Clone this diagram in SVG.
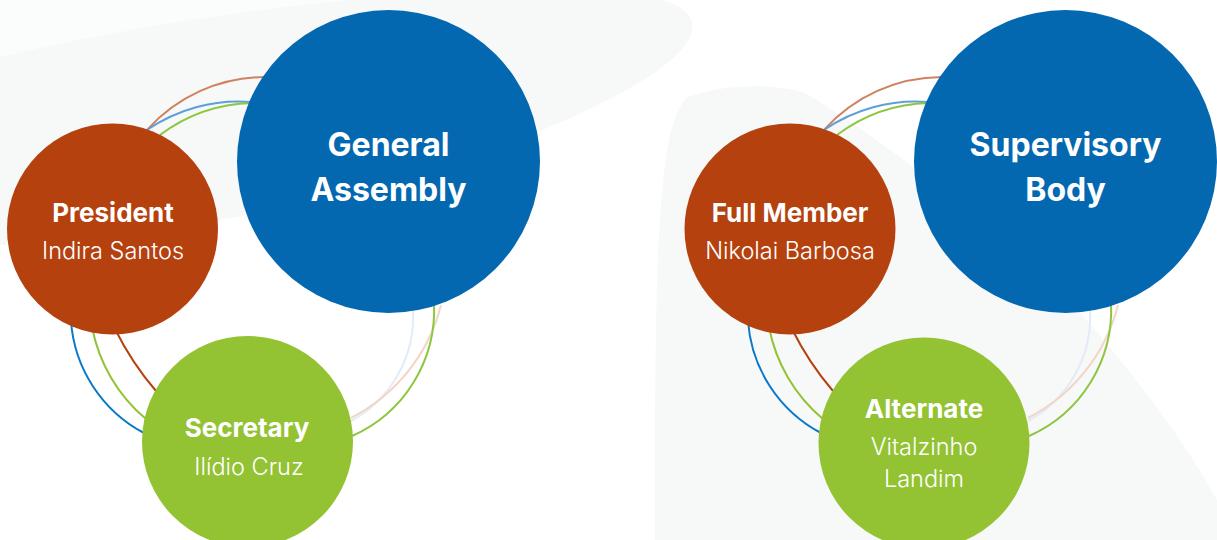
<svg xmlns="http://www.w3.org/2000/svg" width="1217" height="540" viewBox="0 0 1217 540">
<style>
.bg{fill:#F7F8F8}
.bg2{fill:#FBFCFC}
.node-blue{fill:#0468B1}
.node-orange{fill:#B5410F}
.node-green{fill:#93C233}
.t{fill:#FFFFFF;text-anchor:middle;font-family:Inter,"Liberation Sans",sans-serif}
.title{font-size:32px;font-weight:700}
.role{font-size:26px;font-weight:700}
.name{font-size:23.5px;font-weight:300}
.link{fill:none;stroke-width:2}
</style>
<rect width="1217" height="540" fill="#FFFFFF"/>
<g id="background">
<path class="bg2" d="M0,0 L620,0 C450,-10 200,15 0,57 Z"/>
<path class="bg" d="M0,57 L0,245 C150,235 350,205 480,155 C600,110 700,60 692,22 C688,8 670,0 640,-5 C450,-20 200,10 0,57 Z"/>
<path class="bg" d="M688,97 C720,85 770,82 805,93 C900,150 1010,240 1080,313 C1140,380 1190,450 1217,500 L1217,540 L655,540 C655,400 655,260 662,193 C666,150 672,110 688,97 Z"/>
</g>
<g id="connectors">
<g id="links-left">
<path class="link" stroke="#D0825E" d="M147,130 A159 159 0 0 1 265,77"/>
<path class="link" stroke="#5E9FDB" d="M147,130 A161 161 0 0 1 250,102"/>
<path class="link" stroke="#8DC63F" d="M160,135 A160 160 0 0 1 252,103"/>
<path class="link" stroke="#0A78C8" d="M71,321 A138 138 0 0 0 144,433"/>
<path class="link" stroke="#93C233" d="M92,327 A159 159 0 0 0 146,419"/>
<path class="link" stroke="#B5410F" d="M115,329 A300 300 0 0 0 156,391"/>
<path class="link" stroke="#E3EBF8" d="M413,310 A119 119 0 0 1 351,421"/>
<path class="link" stroke="#F2D5C6" d="M441,305 A175 175 0 0 1 351,418"/>
<path class="link" stroke="#8DC63F" d="M434,303 A138 138 0 0 1 352,436"/>
</g>
<g id="links-right">
<path class="link" stroke="#D0825E" d="M824,130 A159 159 0 0 1 942,77"/>
<path class="link" stroke="#5E9FDB" d="M824,130 A161 161 0 0 1 927,102"/>
<path class="link" stroke="#8DC63F" d="M837,135 A160 160 0 0 1 929,103"/>
<path class="link" stroke="#0A78C8" d="M748,321 A138 138 0 0 0 821,433"/>
<path class="link" stroke="#93C233" d="M769,327 A159 159 0 0 0 823,419"/>
<path class="link" stroke="#B5410F" d="M792,329 A300 300 0 0 0 833,391"/>
<path class="link" stroke="#E3EBF8" d="M1090,310 A119 119 0 0 1 1028,421"/>
<path class="link" stroke="#F2D5C6" d="M1118,305 A175 175 0 0 1 1028,418"/>
<path class="link" stroke="#8DC63F" d="M1111,303 A138 138 0 0 1 1029,436"/>
</g>
</g>
<g id="general-assembly">
<circle class="node-blue" cx="388.5" cy="161.5" r="151.5"/>
<text class="t title" x="388.5" y="156">General</text>
<text class="t title" x="388.5" y="201">Assembly</text>
</g>
<g id="president">
<circle class="node-orange" cx="112.5" cy="229" r="105.5"/>
<text class="t role" x="113" y="222">President</text>
<text class="t name" x="113" y="259">Indira Santos</text>
</g>
<g id="secretary">
<circle class="node-green" cx="247.5" cy="441.5" r="105.5"/>
<text class="t role" x="247" y="437">Secretary</text>
<text class="t name" x="249" y="475">Ilídio Cruz</text>
</g>
<g id="supervisory-body">
<circle class="node-blue" cx="1065.5" cy="161.5" r="151.5"/>
<text class="t title" x="1065.5" y="156">Supervisory</text>
<text class="t title" x="1065.5" y="201">Body</text>
</g>
<g id="full-member">
<circle class="node-orange" cx="790" cy="229" r="105.5"/>
<text class="t role" x="790" y="222">Full Member</text>
<text class="t name" x="790" y="259">Nikolai Barbosa</text>
</g>
<g id="alternate">
<circle class="node-green" cx="924" cy="443" r="105.5"/>
<text class="t role" x="924" y="418">Alternate</text>
<text class="t name" x="924" y="455">Vitalzinho</text>
<text class="t name" x="924" y="487">Landim</text>
</g>
</svg>
